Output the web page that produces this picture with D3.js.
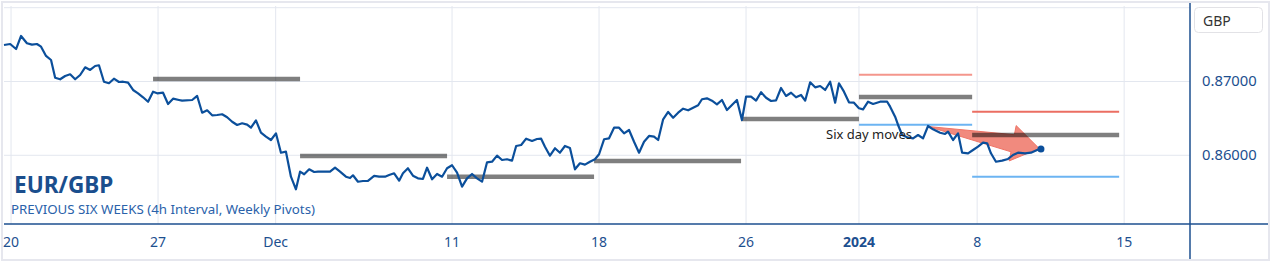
<!DOCTYPE html>
<html>
<head>
<meta charset="utf-8">
<script src="https://cdn.jsdelivr.net/npm/d3@7"></script>
<style>
  html, body { margin: 0; padding: 0; background: #fff; }
  svg { display: block; font-family: "Noto Sans", "Open Sans", sans-serif; }
</style>
</head>
<body>
<svg id="chart" width="1271" height="263"></svg>
<script>
// x values are trading days counted from Mon 20 Nov 2023 (weekends / holidays removed)
const tickDays = [0, 5, 9, 15, 20, 25, 28.84, 32.86, 37.86];
const tickLabels = ["20", "27", "Dec", "11", "18", "26", "2024", "8", "15"];
const priceTicks = [0.86, 0.87, 0.88];

// EUR/GBP 4h closes
const priceDays = [
  -0.24, -0.03, 0.17, 0.34, 0.54, 0.71, 0.88, 1.02, 1.19, 1.36, 1.50, 1.67, 1.84, 2.01, 2.18, 2.35,
  2.52, 2.69, 2.86, 2.99, 3.16, 3.33, 3.50, 3.67, 3.81, 3.98, 4.15, 4.32, 4.49, 4.66, 4.83, 4.97,
  5.17, 5.34, 5.51, 5.71, 5.82, 6.16, 6.33, 6.50, 6.67, 6.84, 7.01, 7.18, 7.35, 7.52, 7.69, 7.86,
  8.03, 8.16, 8.33, 8.50, 8.67, 8.84, 9.01, 9.18, 9.35, 9.52, 9.69, 9.83, 9.97, 10.14, 10.31, 10.44,
  10.58, 10.85, 11.02, 11.19, 11.39, 11.53, 11.63, 11.80, 11.97, 12.14, 12.35, 12.52, 12.72, 12.86,
  13.03, 13.20, 13.33, 13.50, 13.67, 13.84, 14.01, 14.15, 14.32, 14.49, 14.66, 14.83, 15.00, 15.17,
  15.34, 15.51, 15.68, 15.85, 16.02, 16.19, 16.36, 16.53, 16.70, 16.87, 17.04, 17.18, 17.35, 17.52,
  17.72, 17.89, 18.03, 18.16, 18.33, 18.50, 18.67, 18.84, 19.01, 19.18, 19.35, 19.52, 19.69, 19.86,
  20.00, 20.17, 20.34, 20.51, 20.68, 20.85, 21.02, 21.19, 21.36, 21.53, 21.70, 21.87, 22.01, 22.18,
  22.35, 22.52, 22.69, 22.86, 23.03, 23.20, 23.37, 23.50, 23.67, 23.84, 24.01, 24.18, 24.35, 24.52,
  24.69, 24.86, 25.00, 25.17, 25.34, 25.51, 25.68, 25.85, 26.02, 26.19, 26.36, 26.53, 26.70, 26.87,
  27.01, 27.18, 27.35, 27.52, 27.69, 27.86, 28.03, 28.16, 28.33, 28.50, 28.67, 28.84, 28.98, 29.15,
  29.32, 29.56, 29.80, 29.90, 30.07, 30.17, 30.31, 30.48, 30.68, 30.85, 31.02, 31.19, 31.36, 31.60,
  31.77, 31.87, 32.04, 32.21, 32.35, 32.55, 32.72, 32.89, 33.06, 33.20, 33.33, 33.50, 33.71, 33.91,
  34.08, 34.25, 34.49, 34.69, 34.90, 35.03
];
const prices = [
  0.87495, 0.87508, 0.87440, 0.87617, 0.87518, 0.87499, 0.87508, 0.87472, 0.87346, 0.87291, 0.87051, 0.87030, 0.87075, 0.87098, 0.87030, 0.87088,
  0.87192, 0.87156, 0.87210, 0.87220, 0.86997, 0.86976, 0.87038, 0.86993, 0.86997, 0.86984, 0.86885, 0.86840, 0.86786, 0.86726, 0.86862, 0.86840,
  0.86848, 0.86695, 0.86767, 0.86749, 0.86740, 0.86749, 0.86804, 0.86577, 0.86610, 0.86542, 0.86546, 0.86556, 0.86515, 0.86455, 0.86411, 0.86434,
  0.86415, 0.86374, 0.86474, 0.86306, 0.86252, 0.86207, 0.86298, 0.86035, 0.86049, 0.85710, 0.85539, 0.85778, 0.85743, 0.85810, 0.85774, 0.85778,
  0.85778, 0.85778, 0.85832, 0.85778, 0.85710, 0.85692, 0.85729, 0.85642, 0.85652, 0.85652, 0.85720, 0.85710, 0.85710, 0.85733,
  0.85756, 0.85656, 0.85756, 0.85824, 0.85724, 0.85688, 0.85679, 0.85832, 0.85675, 0.85747, 0.85710, 0.85824, 0.85865, 0.85764,
  0.85575, 0.85688, 0.85747, 0.85688, 0.85642, 0.85905, 0.85913, 0.85995, 0.85936, 0.85946, 0.85927, 0.86126, 0.86140, 0.86225,
  0.86194, 0.86221, 0.86225, 0.86117, 0.85995, 0.86095, 0.86035, 0.86126, 0.86099, 0.85810, 0.85892, 0.85873, 0.85913, 0.85946,
  0.86014, 0.86217, 0.86230, 0.86374, 0.86374, 0.86298, 0.86343, 0.86184, 0.86035, 0.86184, 0.86262, 0.86252, 0.86207, 0.86488,
  0.86587, 0.86509, 0.86577, 0.86631, 0.86610, 0.86645, 0.86678, 0.86759, 0.86772, 0.86740, 0.86691, 0.86749, 0.86614, 0.86682,
  0.86749, 0.86478, 0.86794, 0.86794, 0.86740, 0.86854, 0.86780, 0.86736, 0.86745, 0.86912, 0.86804, 0.86848, 0.86786, 0.86817,
  0.86740, 0.86989, 0.86921, 0.86939, 0.86885, 0.86997, 0.86713, 0.86976, 0.86862, 0.86718, 0.86713, 0.86637, 0.86623, 0.86726,
  0.86695, 0.86726, 0.86726, 0.86659, 0.86523, 0.86411, 0.86275, 0.86244, 0.86230, 0.86275, 0.86230, 0.86397, 0.86352, 0.86306,
  0.86289, 0.86320, 0.86207, 0.86298, 0.86035, 0.86027, 0.86072, 0.86117, 0.86171, 0.86163, 0.86027, 0.85913, 0.85927, 0.85950,
  0.86004, 0.86035, 0.86027, 0.86035, 0.86072, 0.86085
];

// weekly pivots (grey), with R1 / S1 for the last two weeks
const pivotStarts = [4.83, 9.83, 14.83, 19.83, 24.83, 28.84, 32.69];
const pivotEnds = [9.83, 14.83, 19.83, 24.83, 28.84, 32.69, 37.69];
const pivotLevels = [0.87034, 0.85991, 0.85710, 0.85923, 0.86492, 0.86790, 0.86275];
const r1Levels = [0.87092, 0.86591];
const s1Levels = [0.86415, 0.85710];
const bandWeeks = [5, 6];

// "Six day moves" arrow: [day, price]
const moveFrom = [31.19, 0.86390];
const moveTo = [34.97, 0.86092];

const svg = d3.select("#chart");
const W = 1271, H = 263;
const plot = { left: 4, right: 1190, top: 6, bottom: 224 };

const xScale = d3.scaleLinear().domain([-0.24, 40.1]).range([plot.left, plot.right]);
const yScale = d3.scaleLinear().domain([0.85069, 0.88023]).range([plot.bottom, plot.top]);

// outer frame
svg.append("rect")
  .attr("x", 2).attr("y", 2)
  .attr("width", W - 4).attr("height", H - 5)
  .attr("fill", "#fff")
  .attr("stroke", "#e6e7ee")
  .attr("stroke-width", 2);

// grid
svg.append("g")
  .selectAll("line")
  .data(priceTicks)
  .join("line")
  .attr("x1", plot.left).attr("x2", plot.right)
  .attr("y1", d => yScale(d)).attr("y2", d => yScale(d))
  .attr("stroke", "#e3e7ef").attr("stroke-width", 1);

svg.append("g")
  .selectAll("line")
  .data(tickDays)
  .join("line")
  .attr("x1", d => xScale(d)).attr("x2", d => xScale(d))
  .attr("y1", plot.top).attr("y2", plot.bottom)
  .attr("stroke", "#e3e7ef").attr("stroke-width", 1);

// arrow for the six day move, drawn under the pivots
const ax0 = xScale(moveFrom[0]), ay0 = yScale(moveFrom[1]);
const ax1 = xScale(moveTo[0]), ay1 = yScale(moveTo[1]);
const len = Math.hypot(ax1 - ax0, ay1 - ay0);
const ux = (ax1 - ax0) / len, uy = (ay1 - ay0) / len;
const headLen = 27, shaftW = 8.7, headW = 18;
const pt = (u, v) => [ax0 + ux * u - uy * v, ay0 + uy * u + ux * v];
const arrowPts = [
  pt(0, 0),
  pt(len - headLen, -shaftW),
  pt(len - headLen, -headW),
  pt(len, 0),
  pt(len - headLen, headW),
  pt(len - headLen, shaftW)
];
svg.append("path")
  .attr("d", d3.line()(arrowPts) + "Z")
  .attr("fill", "#f07d70")
  .attr("fill-opacity", 0.9)
  .attr("stroke", "#ef7466")
  .attr("stroke-width", 1)
  .attr("stroke-linejoin", "round");

// pivots
svg.append("g")
  .selectAll("line")
  .data(pivotLevels)
  .join("line")
  .attr("x1", (d, i) => xScale(pivotStarts[i]))
  .attr("x2", (d, i) => xScale(pivotEnds[i]))
  .attr("y1", d => yScale(d)).attr("y2", d => yScale(d))
  .attr("stroke", "#000").attr("stroke-opacity", 0.5)
  .attr("stroke-width", 4.5);

// R1 / S1
svg.append("g")
  .selectAll("line")
  .data(r1Levels)
  .join("line")
  .attr("x1", (d, i) => xScale(pivotStarts[bandWeeks[i]]))
  .attr("x2", (d, i) => xScale(pivotEnds[bandWeeks[i]]))
  .attr("y1", d => yScale(d)).attr("y2", d => yScale(d))
  .attr("stroke", (d, i) => i === 0 ? "#f4968c" : "#eb6e62")
  .attr("stroke-width", 2);

svg.append("g")
  .selectAll("line")
  .data(s1Levels)
  .join("line")
  .attr("x1", (d, i) => xScale(pivotStarts[bandWeeks[i]]))
  .attr("x2", (d, i) => xScale(pivotEnds[bandWeeks[i]]))
  .attr("y1", d => yScale(d)).attr("y2", d => yScale(d))
  .attr("stroke", "#6cb4f2")
  .attr("stroke-width", 2);

// price line
const series = priceDays.map((d, i) => ({ day: d, price: prices[i] }));
const lineGenerator = d3.line()
  .x(d => xScale(d.day))
  .y(d => yScale(d.price));

svg.append("path")
  .attr("d", lineGenerator(series))
  .attr("fill", "none")
  .attr("stroke", "#0b4f9b")
  .attr("stroke-width", 2.2)
  .attr("stroke-linejoin", "round");

const last = series[series.length - 1];
svg.append("circle")
  .attr("cx", xScale(last.day)).attr("cy", yScale(last.price))
  .attr("r", 3.5)
  .attr("fill", "#0b4f9b");

svg.append("text")
  .attr("x", ax0 - 16).attr("y", ay0 + 12)
  .attr("text-anchor", "end")
  .attr("font-size", 13)
  .attr("fill", "#222")
  .text("Six day moves");

// axes lines
svg.append("line")
  .attr("x1", plot.left).attr("x2", W - 3)
  .attr("y1", plot.bottom).attr("y2", plot.bottom)
  .attr("stroke", "#1d4f8f").attr("stroke-width", 1.5);

svg.append("line")
  .attr("x1", plot.right).attr("x2", plot.right)
  .attr("y1", 3).attr("y2", H - 4)
  .attr("stroke", "#1d4f8f").attr("stroke-width", 1.5);

// bottom tick labels
svg.append("g")
  .selectAll("text")
  .data(tickDays)
  .join("text")
  .attr("x", d => xScale(d))
  .attr("y", 247)
  .attr("text-anchor", "middle")
  .attr("font-size", 14)
  .attr("font-weight", (d, i) => tickLabels[i] === "2024" ? "bold" : "normal")
  .attr("fill", "#1d4f8f")
  .text((d, i) => tickLabels[i]);

// right price labels
svg.append("g")
  .selectAll("text")
  .data(priceTicks.filter(d => d < 0.875))
  .join("text")
  .attr("x", 1202)
  .attr("y", d => yScale(d) + 5)
  .attr("font-size", 14.8)
  .attr("fill", "#1d4f8f")
  .text(d3.format(".5f"));

// currency badge
svg.append("rect")
  .attr("x", 1194.5).attr("y", 7.5)
  .attr("width", 68).attr("height", 25)
  .attr("rx", 4)
  .attr("fill", "#fff")
  .attr("stroke", "#e2e2e6");
svg.append("text")
  .attr("x", 1203).attr("y", 25.5)
  .attr("font-size", 14)
  .attr("fill", "#333")
  .text("GBP");

// titles
svg.append("text")
  .attr("x", 14).attr("y", 193)
  .attr("font-size", 22.6)
  .attr("font-weight", "bold")
  .attr("fill", "#1a4e8d")
  .text("EUR/GBP");
svg.append("text")
  .attr("x", 11).attr("y", 214)
  .attr("font-size", 13.3)
  .attr("fill", "#2a62aa")
  .text("PREVIOUS SIX WEEKS (4h Interval, Weekly Pivots)");
</script>
</body>
</html>
